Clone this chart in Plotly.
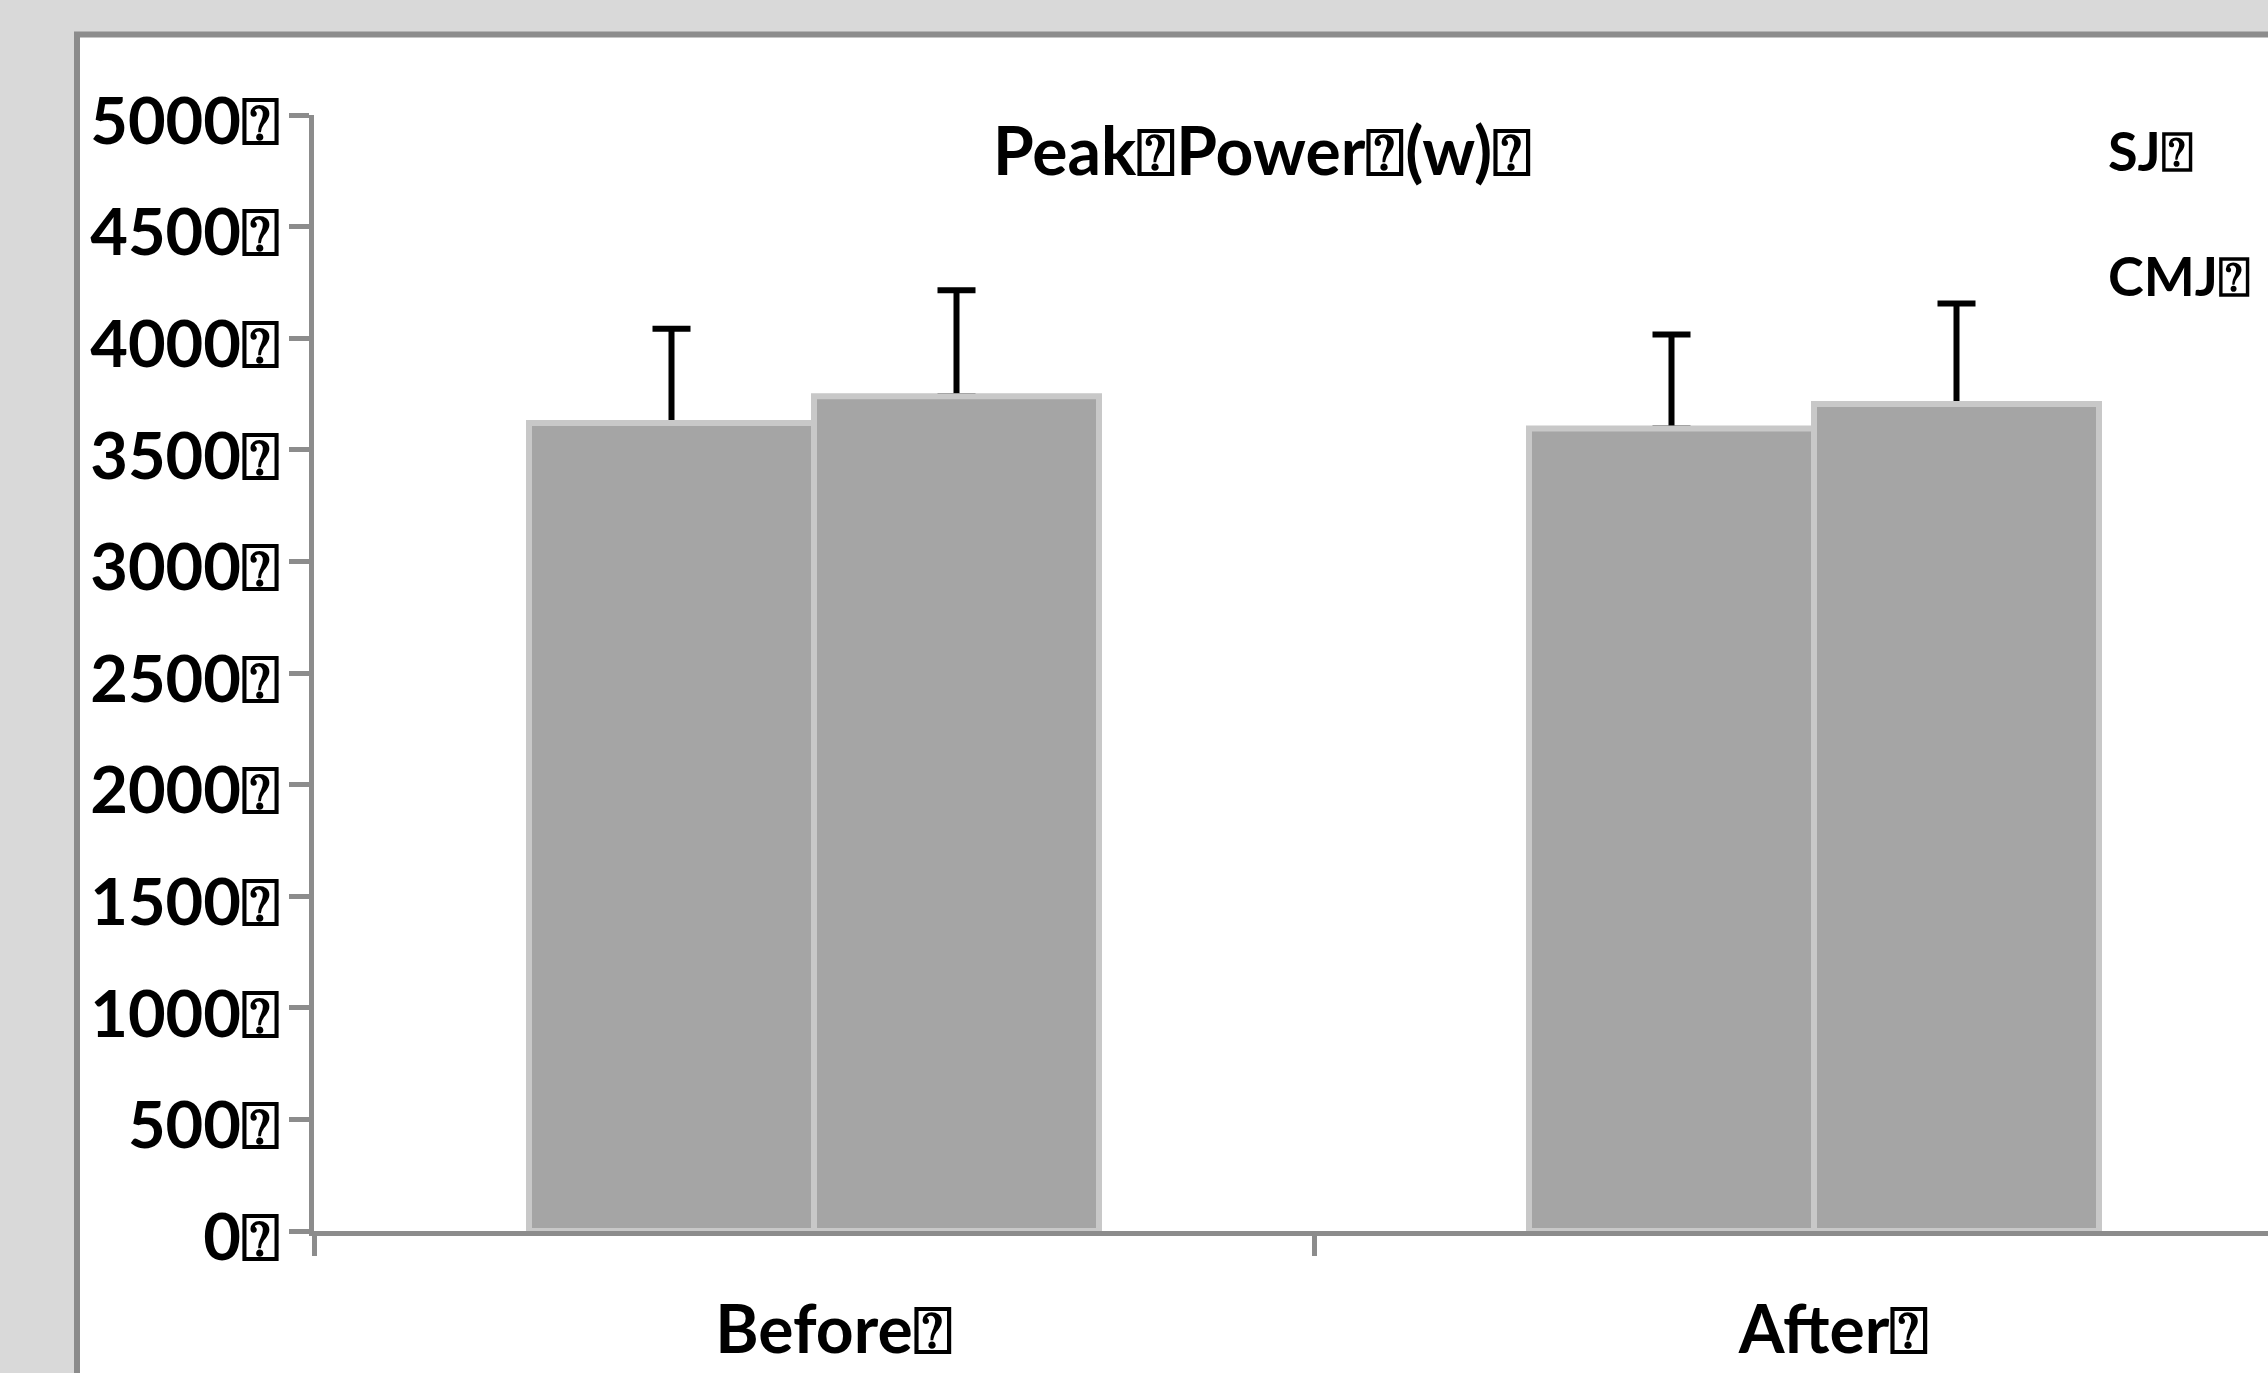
import plotly.graph_objects as go

# ---- data ----
categories = ["Before", "After"]
category_labels = ["Before⍰", "After⍰"]
series_names = ["SJ", "CMJ"]
sj_values = [3620, 3595]
cmj_values = [3740, 3705]
sj_errors = [422, 422]
cmj_errors = [475, 450]
y_tick_values = [0, 500, 1000, 1500, 2000, 2500, 3000, 3500, 4000, 4500, 5000]
y_tick_labels = [f"{v}⍰" for v in y_tick_values]
title_text = "Peak⍰Power⍰(w)⍰"
legend_labels = ["SJ⍰", "CMJ⍰"]

W, H = 2268, 1373
ML, MR, MT, MB = 314, 0, 115, 142
plot_w = W - ML - MR
plot_h = H - MT - MB

FONT = "Lato"
AXIS_GRAY = "#8c8c8c"
BAR_GRAY = "#a5a5a5"

series = [(series_names[0], sj_values, sj_errors), (series_names[1], cmj_values, cmj_errors)]

fig = go.Figure()
# error bars (drawn under the visible bars so only the upper part shows)
for name, vals, errs in series:
    fig.add_trace(go.Bar(
        x=categories, y=vals, name=name, yaxis="y",
        marker=dict(color="rgba(0,0,0,0)", line=dict(width=0)),
        error_y=dict(type="data", symmetric=False, array=errs,
                     arrayminus=[0] * len(errs), color="black",
                     thickness=6, width=19),
        showlegend=False, hoverinfo="skip",
    ))
# visible bars
for name, vals, errs in series:
    fig.add_trace(go.Bar(
        x=categories, y=vals, name=name, yaxis="y2",
        marker=dict(color=BAR_GRAY, line=dict(color="#c8c8c8", width=6)),
        showlegend=False,
    ))

# white chart panel with grey border
px_x = lambda p: (p - ML) / plot_w
px_y = lambda p: (H - MB - p) / plot_h
fig.add_shape(type="rect", xref="paper", yref="paper",
              x0=px_x(77), x1=1.2, y0=-0.3, y1=px_y(34.5),
              fillcolor="white", line=dict(color=AXIS_GRAY, width=6),
              layer="below")

fig.add_annotation(text=title_text, xref="paper", yref="paper",
                   x=px_x(1262), y=px_y(149), xanchor="center", yanchor="middle",
                   showarrow=False,
                   font=dict(family=FONT, size=66, color="black", weight="bold"))
for lab, ypx in zip(legend_labels, [150.7, 275]):
    fig.add_annotation(text=lab, xref="paper", yref="paper",
                       x=px_x(2106), y=px_y(ypx), xanchor="left", yanchor="middle",
                       showarrow=False,
                       font=dict(family=FONT, size=54, color="black", weight="bold"))

fig.update_layout(
    width=W, height=H,
    margin=dict(l=ML, r=MR, t=MT, b=MB, pad=0),
    paper_bgcolor="#d9d9d9",
    plot_bgcolor="rgba(0,0,0,0)",
    barmode="group", bargap=0.43, bargroupgap=0,
    showlegend=False,
    font=dict(family=FONT, color="black"),
    xaxis=dict(
        type="category", categoryorder="array", categoryarray=categories,
        range=[-0.5, -0.5 + plot_w / 1000.0],
        tickvals=categories, ticktext=category_labels,
        tickson="boundaries", ticks="outside", ticklen=20, tickwidth=5,
        tickcolor=AXIS_GRAY, showline=True, linecolor=AXIS_GRAY, linewidth=5,
        showgrid=False, zeroline=False, ticklabelshift=20, ticklabelstandoff=38,
        tickfont=dict(family=FONT, size=66, color="black", weight="bold"),
    ),
    yaxis=dict(
        range=[0, 5000], tickvals=y_tick_values, ticktext=y_tick_labels,
        ticks="outside", ticklen=20, tickwidth=5, tickcolor=AXIS_GRAY,
        showline=True, linecolor=AXIS_GRAY, linewidth=5,
        showgrid=False, zeroline=False, ticklabelstandoff=-4, ticklabelshift=6,
        tickfont=dict(family=FONT, size=65, color="black", weight="bold"),
    ),
    yaxis2=dict(range=[0, 5000], overlaying="y", visible=False,
                showgrid=False, zeroline=False),
)

fig.write_html("out.html", config={"displayModeBar": False},
               post_script="document.body.style.margin='0';")
